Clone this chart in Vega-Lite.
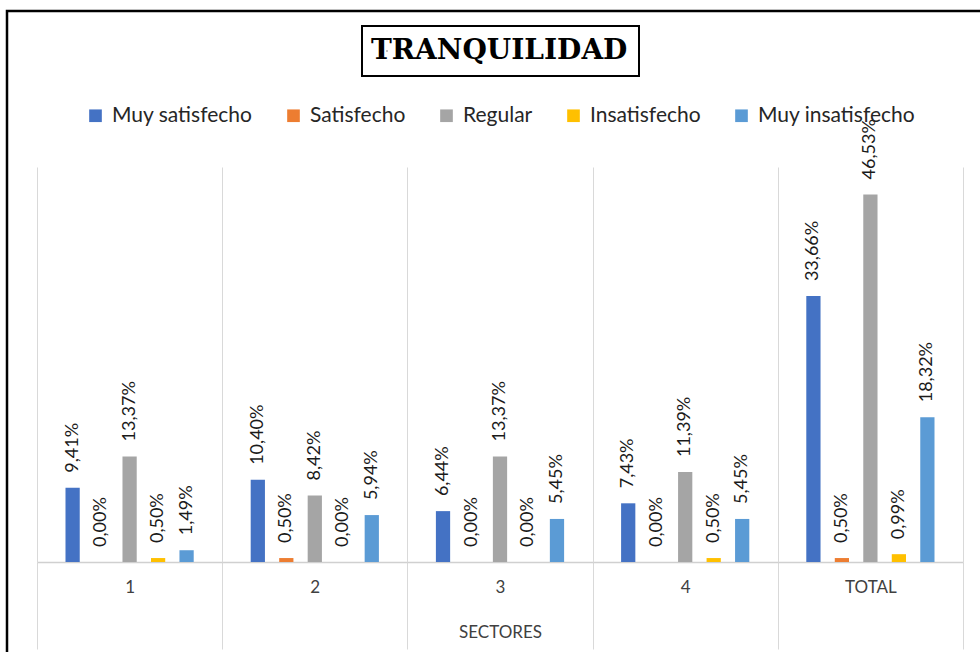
{
  "$schema": "https://vega.github.io/schema/vega-lite/v6.json",
  "padding": {"left": 7, "top": 11, "right": 0, "bottom": 0},
  "background": "white",
  "config": {
    "locale": {"number": {"decimal": ",", "thousands": ".", "grouping": [3], "currency": ["", " €"]}},
    "font": "Lato",
    "legend": {"strokeWidth": 2}
  },
  "width": 990,
  "height": 660,
  "view": {"stroke": "black", "strokeWidth": 2.5, "fill": "white"},
  "resolve": {"axis": {"x": "independent"}},
  "data": {
    "values": [
      {"sector": "1", "cat": "Muy satisfecho", "value": 0.0941},
      {"sector": "1", "cat": "Satisfecho", "value": 0.0},
      {"sector": "1", "cat": "Regular", "value": 0.1337},
      {"sector": "1", "cat": "Insatisfecho", "value": 0.005},
      {"sector": "1", "cat": "Muy insatisfecho", "value": 0.0149},
      {"sector": "2", "cat": "Muy satisfecho", "value": 0.104},
      {"sector": "2", "cat": "Satisfecho", "value": 0.005},
      {"sector": "2", "cat": "Regular", "value": 0.0842},
      {"sector": "2", "cat": "Insatisfecho", "value": 0.0},
      {"sector": "2", "cat": "Muy insatisfecho", "value": 0.0594},
      {"sector": "3", "cat": "Muy satisfecho", "value": 0.0644},
      {"sector": "3", "cat": "Satisfecho", "value": 0.0},
      {"sector": "3", "cat": "Regular", "value": 0.1337},
      {"sector": "3", "cat": "Insatisfecho", "value": 0.0},
      {"sector": "3", "cat": "Muy insatisfecho", "value": 0.0545},
      {"sector": "4", "cat": "Muy satisfecho", "value": 0.0743},
      {"sector": "4", "cat": "Satisfecho", "value": 0.0},
      {"sector": "4", "cat": "Regular", "value": 0.1139},
      {"sector": "4", "cat": "Insatisfecho", "value": 0.005},
      {"sector": "4", "cat": "Muy insatisfecho", "value": 0.0545},
      {"sector": "TOTAL", "cat": "Muy satisfecho", "value": 0.3366},
      {"sector": "TOTAL", "cat": "Satisfecho", "value": 0.005},
      {"sector": "TOTAL", "cat": "Regular", "value": 0.4653},
      {"sector": "TOTAL", "cat": "Insatisfecho", "value": 0.0099},
      {"sector": "TOTAL", "cat": "Muy insatisfecho", "value": 0.1832}
    ]
  },
  "encoding": {
    "y": {
      "field": "value",
      "type": "quantitative",
      "scale": {"domain": [0, 0.5], "range": [551, 156], "nice": false},
      "axis": null
    },
    "xOffset": {
      "field": "cat",
      "type": "nominal",
      "sort": ["Muy satisfecho", "Satisfecho", "Regular", "Insatisfecho", "Muy insatisfecho"],
      "scale": {"paddingInner": 0.5, "paddingOuter": 1}
    }
  },
  "layer": [
    {
      "mark": {"type": "bar"},
      "encoding": {
        "x": {
          "field": "sector",
          "type": "nominal",
          "sort": ["1", "2", "3", "4", "TOTAL"],
          "scale": {"domain": ["1", "2", "3", "4", "TOTAL"], "range": [30, 956], "paddingInner": 0, "paddingOuter": 0},
          "axis": {
            "orient": "bottom",
            "offset": -109,
            "title": "SECTORES",
            "labelAngle": 0,
            "grid": false,
            "tickBand": "extent",
            "domainColor": "#d0d0d0",
            "domainWidth": 1.5,
            "ticks": true,
            "tickSize": 87,
            "tickColor": "#d9d9d9",
            "labelPadding": -70,
            "labelFontSize": 17,
            "labelColor": "#404040",
            "labelFont": "Lato",
            "titleFont": "Lato",
            "titleFontSize": 17,
            "titleFontWeight": "normal",
            "titleColor": "#404040",
            "titleY": 75,
            "titleBaseline": "alphabetic"
          }
        },
        "color": {
          "field": "cat",
          "type": "nominal",
          "sort": ["Muy satisfecho", "Satisfecho", "Regular", "Insatisfecho", "Muy insatisfecho"],
          "scale": {
            "domain": ["Muy satisfecho", "Satisfecho", "Regular", "Insatisfecho", "Muy insatisfecho"],
            "range": ["#4472C4", "#ED7D31", "#A5A5A5", "#FFC000", "#5B9BD5"]
          },
          "legend": {
            "orient": "none",
            "legendX": 78,
            "legendY": 94,
            "direction": "horizontal",
            "title": null,
            "symbolType": "square",
            "symbolSize": 160,
            "symbolStrokeWidth": 0,
            "labelFontSize": 21,
            "labelFont": "Lato",
            "labelColor": "#262626",
            "labelOffset": 6,
            "columnPadding": 30,
            "labelLimit": 0
          }
        },
        "opacity": {
          "datum": "TRANQUILIDAD",
          "type": "nominal",
          "scale": {"domain": ["TRANQUILIDAD"], "range": [1]},
          "legend": {
            "orient": "none",
            "legendX": 355,
            "legendY": 15,
            "title": null,
            "symbolSize": 1,
            "symbolOpacity": 0,
            "symbolStrokeWidth": 0,
            "labelOffset": -30,
            "labelFont": "DejaVu Serif",
            "labelFontWeight": "bold",
            "labelFontSize": 28,
            "labelColor": "black",
            "labelLimit": 0,
            "padding": 11,
            "strokeColor": "black",
            "fillColor": "white"
          }
        }
      }
    },
    {
      "mark": {"type": "text", "angle": 270, "align": "left", "baseline": "middle", "dx": 15, "fontSize": 18, "font": "Lato", "color": "#1a1a1a"},
      "encoding": {
        "x": {
          "field": "sector",
          "type": "nominal",
          "sort": ["1", "2", "3", "4", "TOTAL"],
          "axis": {
            "orient": "top",
            "offset": -156,
            "labels": false,
            "domain": false,
            "title": null,
            "grid": false,
            "ticks": true,
            "tickBand": "extent",
            "tickSize": -395,
            "tickColor": "#d9d9d9",
            "tickWidth": 1
          }
        },
        "text": {"field": "value", "type": "quantitative", "format": ".2%"}
      }
    }
  ]
}
